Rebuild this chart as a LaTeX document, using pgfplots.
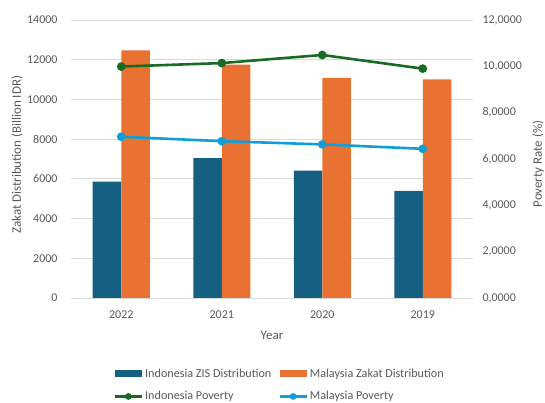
\documentclass[border=0pt]{standalone}
\usepackage{fontspec}
\setmainfont{Carlito}
\usepackage{pgfplots}
\pgfplotsset{compat=1.18}
\definecolor{idbar}{HTML}{156082}
\definecolor{mybar}{HTML}{E97132}
\definecolor{idpov}{HTML}{196B24}
\definecolor{mypov}{HTML}{0F9ED5}
\definecolor{txt}{HTML}{595959}
\definecolor{grd}{HTML}{D9D9D9}
\begin{document}
\begin{tikzpicture}
\useasboundingbox (0,0) rectangle (545bp,403bp);
\pgfplotsset{
  base/.style={
    scale only axis, width=402bp, height=278bp,
    at={(71bp,105bp)}, anchor=south west,
    xmin=-0.5, xmax=3.5,
    font=\fontsize{12}{14}\selectfont,
    /pgf/number format/assume math mode=true,
    tick style={draw=none},
    ticklabel style={text=txt, font=\fontsize{12}{14}\selectfont},
    axis line style={draw=none},
  },
  barleg/.style={legend image code/.code={\fill[##1] (0bp,-3.5bp) rectangle (27bp,3.5bp);}},
  lineleg/.style={legend image code/.code={\draw[##1, mark repeat=2, mark phase=2, mark size=2bp] plot coordinates {(0bp,0bp) (13.5bp,0bp) (27bp,0bp)};}},
}
\begin{axis}[base,
  ymin=0, ymax=14000, ytick={0,2000,...,14000},
  scaled y ticks=false,
  ymajorgrids, grid style={grd, line width=0.8bp},
  xtick={0,1,2,3}, xticklabels={2022,2021,2020,2019},
  yticklabel style={/pgf/number format/1000 sep={}, /pgf/number format/fixed, xshift=-10bp},
  xticklabel style={yshift=-5bp},
  ybar=0pt, bar width=28.5bp,
  ylabel={Zakat Distribution (Billion IDR)},
  ylabel style={at={(axis description cs:-0.134,0.515)}, anchor=center, rotate=0, text=txt, font=\fontsize{13}{14}\selectfont},
  xlabel={Year},
  xlabel style={at={(axis description cs:0.5,-0.133)}, anchor=center, text=txt, font=\fontsize{13}{14}\selectfont},
]
\addplot[fill=idbar, draw=none] coordinates {(0,5860) (1,7050) (2,6420) (3,5400)};
\addplot[fill=mybar, draw=none] coordinates {(0,12470) (1,11750) (2,11080) (3,11010)};
\end{axis}
\begin{axis}[base,
  ymin=0, ymax=12, ytick={0,2,4,6,8,10,12},
  axis y line*=right, axis x line=none,
  yticklabel style={/pgf/number format/.cd, fixed, fixed zerofill, precision=4, use comma, /tikz/xshift=6bp},
  ylabel={Poverty Rate (\%)},
  ylabel style={at={(axis description cs:1.162,0.482)}, anchor=center, rotate=0, text=txt, font=\fontsize{13}{14}\selectfont},
  legend columns=2,
  legend cell align=left,
  legend style={draw=none, fill=none, at={(axis description cs:0.519,-0.313)}, anchor=center,
    font=\fontsize{12.2}{14}\selectfont, text=txt, row sep=9bp,
    /tikz/every even column/.append style={column sep=5bp}},
]
\addlegendimage{barleg, fill=idbar, draw=none}
\addlegendentry{Indonesia ZIS Distribution}
\addlegendimage{barleg, fill=mybar, draw=none}
\addlegendentry{Malaysia Zakat Distribution}
\addplot[idpov, line width=2.6bp, mark=*, mark size=3bp, lineleg] coordinates {(0,9.99) (1,10.14) (2,10.49) (3,9.90)};
\addlegendentry{Indonesia Poverty}
\addplot[mypov, line width=2.6bp, mark=*, mark size=3bp, lineleg] coordinates {(0,6.96) (1,6.77) (2,6.63) (3,6.44)};
\addlegendentry{Malaysia Poverty}
\end{axis}
\end{tikzpicture}
\end{document}
